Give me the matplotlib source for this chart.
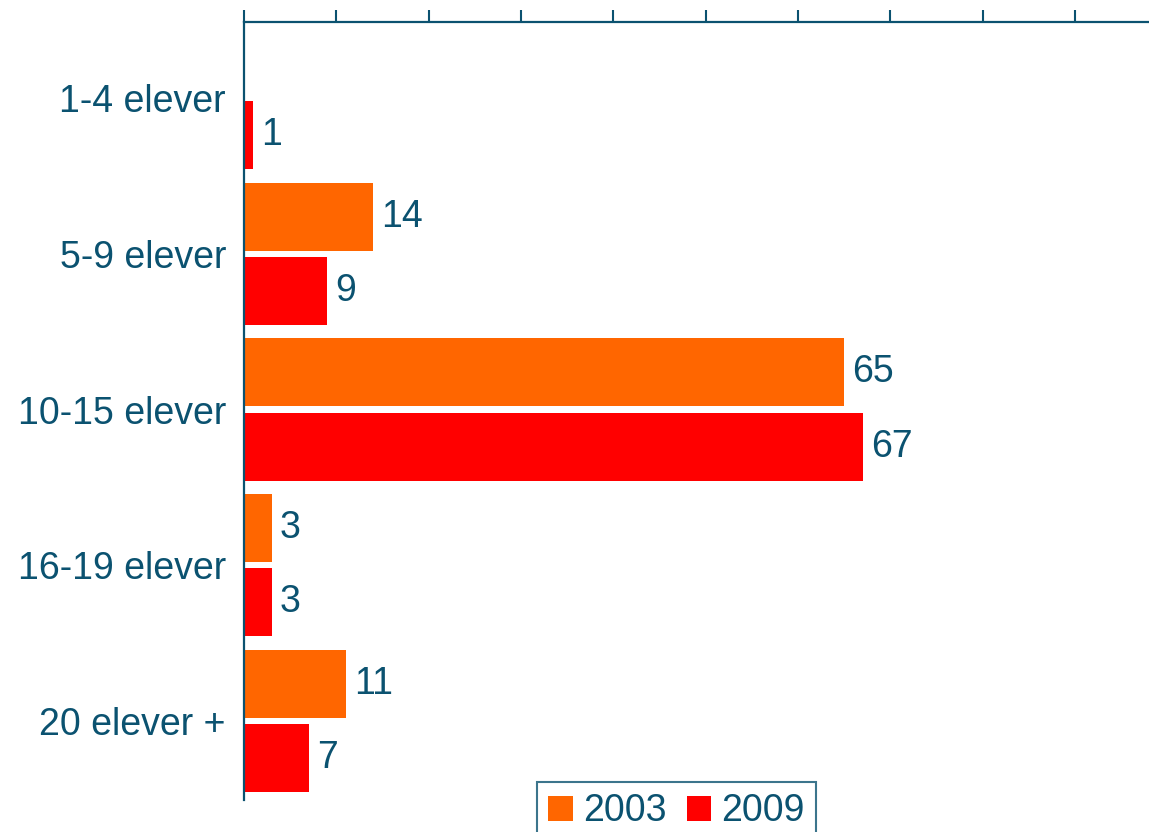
import matplotlib.pyplot as plt
import numpy as np

categories = ["1-4 elever", "5-9 elever", "10-15 elever", "16-19 elever", "20 elever +"]
values_2003 = [0, 14, 65, 3, 11]
values_2009 = [1, 9, 67, 3, 7]
series_names = ["2003", "2009"]

teal = "#0B5270"
orange = "#FF6600"
red = "#FF0000"
fs = 27

plt.rcParams['font.family'] = ['Liberation Sans', 'DejaVu Sans']

fig = plt.figure(figsize=(11.49, 8.32), dpi=100)
ax = fig.add_axes([244 / 1149, 1 - 800 / 832, 1 - 244 / 1149, (800 - 22) / 832])

y = np.arange(len(categories))
h = 0.437
off = 0.238

b1 = ax.barh(y - off, values_2003, height=h, color=orange, label=series_names[0])
b2 = ax.barh(y + off, values_2009, height=h, color=red, label=series_names[1])

# verdiane til høgre for stolpane, 0 utan etikett
for bars, vals in ((b1, values_2003), (b2, values_2009)):
    for bar, v in zip(bars, vals):
        if v == 0:
            continue
        ax.text(bar.get_width() + 0.9, bar.get_y() + bar.get_height() / 2, str(v),
                va="center", ha="left", fontsize=fs, color=teal)

ax.set_xlim(0, 98)
ax.set_ylim(4.507, -0.488)
ax.set_yticks(y)
ax.set_yticklabels(categories, fontsize=fs, color=teal)
ax.set_xticks(np.arange(0, 100, 10))
ax.xaxis.tick_top()
ax.tick_params(axis="x", direction="out", length=8.6, width=1.5, color=teal, labeltop=False)
ax.tick_params(axis="y", length=0, pad=13)

for side in ("right", "bottom"):
    ax.spines[side].set_visible(False)
for side in ("left", "top"):
    ax.spines[side].set_color(teal)
    ax.spines[side].set_linewidth(1.6)

leg = fig.legend(loc="upper left", bbox_to_anchor=(537 / 1149, 1 - 782 / 832),
                 ncol=2, fontsize=fs, frameon=True, fancybox=False,
                 edgecolor=teal, handlelength=0.65, handleheight=0.65,
                 handletextpad=0.27, columnspacing=0.55, borderpad=0.3,
                 borderaxespad=0)
leg.get_frame().set_linewidth(1.5)
for t in leg.get_texts():
    t.set_color(teal)

fig.savefig("out.png", dpi=100)
